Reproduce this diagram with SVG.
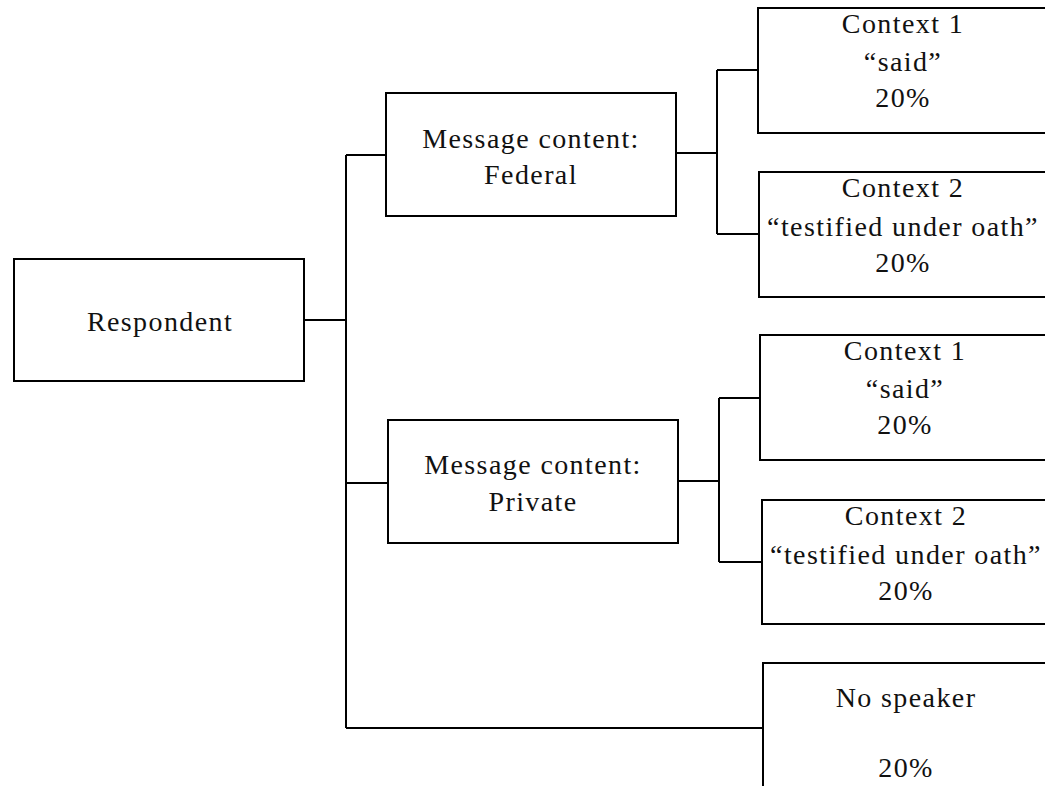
<svg xmlns="http://www.w3.org/2000/svg" width="1045" height="786" viewBox="0 0 1045 786">
<style>
.box{fill:#fff;stroke:#000;stroke-width:2}
.ln{fill:none;stroke:#000;stroke-width:2}
text{font-family:"Liberation Serif","Times New Roman",serif;font-size:28px;fill:#111;text-anchor:middle;letter-spacing:1.4px}
</style>
<rect width="1045" height="786" fill="#fff"/>
<g id="connectors">
<path class="ln" d="M304,320 H346 M346,155 V728 M346,155 H386 M346,483 H388 M346,728 H763"/>
<path class="ln" d="M676,153 H717 M717,70 V234 M717,70 H758 M717,234 H759"/>
<path class="ln" d="M678,481 H719 M719,398 V562 M719,398 H760 M719,562 H762"/>
</g>
<g id="respondent">
<rect class="box" x="14" y="259" width="290" height="122"/>
<text x="160" y="331">Respondent</text>
</g>
<g id="federal">
<rect class="box" x="386" y="93" width="290" height="123"/>
<text x="531" y="148">Message content:</text>
<text x="531" y="184">Federal</text>
</g>
<g id="private">
<rect class="box" x="388" y="420" width="290" height="123"/>
<text x="533" y="474">Message content:</text>
<text x="533" y="511">Private</text>
</g>
<g id="fed-context1">
<rect class="box" x="758" y="8" width="300" height="125"/>
<text x="903" y="33">Context 1</text>
<text x="903" y="71">“said”</text>
<text x="903" y="107">20%</text>
</g>
<g id="fed-context2">
<rect class="box" x="759" y="172" width="300" height="125"/>
<text x="903" y="197">Context 2</text>
<text x="903" y="236">“testified under oath”</text>
<text x="903" y="272">20%</text>
</g>
<g id="priv-context1">
<rect class="box" x="760" y="335" width="300" height="125"/>
<text x="905" y="360">Context 1</text>
<text x="905" y="398">“said”</text>
<text x="905" y="434">20%</text>
</g>
<g id="priv-context2">
<rect class="box" x="762" y="500" width="300" height="124"/>
<text x="906" y="525">Context 2</text>
<text x="906" y="564">“testified under oath”</text>
<text x="906" y="600">20%</text>
</g>
<g id="no-speaker">
<rect class="box" x="763" y="663" width="300" height="135"/>
<text x="906" y="707">No speaker</text>
<text x="906" y="777">20%</text>
</g>
</svg>
